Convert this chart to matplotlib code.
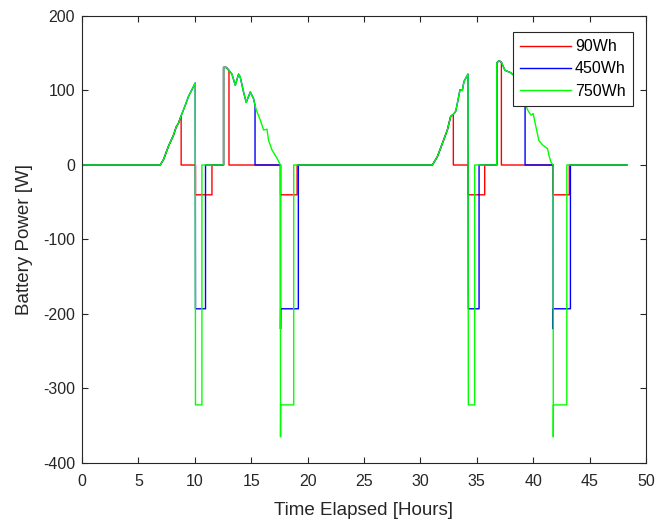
import matplotlib
matplotlib.use("Agg")
import matplotlib.pyplot as plt

plt.rcParams['font.family'] = ['Liberation Sans', 'DejaVu Sans']
plt.rcParams['axes.unicode_minus'] = False

# ---- data (hours, W) ----
# shared solar-charge curve segments
ramp1_t = [6.93, 7.22, 7.66, 8.11, 8.35, 8.55, 8.79, 9.15, 9.44, 9.74, 10.04]
ramp1_p = [0, 7, 25, 40, 51, 56, 66, 80, 92, 101, 110]
aft1_t = [12.55, 12.55, 12.79, 13.03, 13.29, 13.59, 13.88, 14.03, 14.32, 14.56, 14.92,
          15.21, 15.34, 15.45, 15.81, 16.10, 16.40, 16.54, 16.85, 17.29, 17.58]
aft1_p = [0, 131, 131, 127, 122, 107, 122, 118, 98, 84, 98,
          89, 80, 74, 60, 47, 48, 33, 20, 9, 0]
ramp2_t = [31.06, 31.50, 31.95, 32.39, 32.68, 32.92, 33.13, 33.28, 33.51, 33.72, 33.86, 34.22]
ramp2_p = [0, 11, 29, 47, 65, 68, 72, 83, 101, 100, 112, 122]
aft2_t = [36.77, 36.77, 36.97, 37.18, 37.50, 38.00, 38.30, 38.75, 39.28, 39.50, 39.80,
          40.00, 40.23, 40.50, 40.83, 41.27, 41.41, 41.60, 41.77]
aft2_p = [0, 137, 140, 138, 127, 124, 120, 102, 83, 74, 67,
          69, 52, 33, 27, 22, 12, 3, 0]

t_end = 48.3

# 90Wh series
red_t = ([0] + ramp1_t[:7] + [8.79, 10.06, 10.06, 11.52, 11.52]
         + aft1_t[:4] + [13.03, 17.60, 17.60, 19.07, 19.07]
         + ramp2_t[:6] + [32.92, 34.25, 34.25, 35.70, 35.70]
         + aft2_t[:4] + [37.18, 41.77, 41.77, 43.20, 43.20, t_end])
red_p = ([0] + ramp1_p[:7] + [0, 0, -40, -40, 0]
         + aft1_p[:4] + [0, 0, -40, -40, 0]
         + ramp2_p[:6] + [0, 0, -40, -40, 0]
         + aft2_p[:4] + [0, 0, -40, -40, 0, 0])

# 450Wh series
blue_t = ([0] + ramp1_t + [10.06, 10.95, 10.95]
          + aft1_t[:13] + [15.34, 17.60, 17.60, 17.61, 19.18, 19.18]
          + ramp2_t + [34.25, 35.20, 35.20]
          + aft2_t[:9] + [39.28, 41.77, 41.77, 41.78, 43.30, 43.30, t_end])
blue_p = ([0] + ramp1_p + [-193, -193, 0]
          + aft1_p[:13] + [0, 0, -220, -193, -193, 0]
          + ramp2_p + [-193, -193, 0]
          + aft2_p[:9] + [0, 0, -220, -193, -193, 0, 0])

# 750Wh series
green_t = ([0] + ramp1_t + [10.06, 10.63, 10.63]
           + aft1_t + [17.60, 17.61, 18.77, 18.77]
           + ramp2_t + [34.25, 34.81, 34.81]
           + aft2_t + [41.78, 41.79, 42.98, 42.98, t_end])
green_p = ([0] + ramp1_p + [-322, -322, 0]
           + aft1_p + [-365, -322, -322, 0]
           + ramp2_p + [-322, -322, 0]
           + aft2_p + [-365, -322, -322, 0, 0])

labels = ['90Wh', '450Wh', '750Wh']
colors = ['#ff0000', '#0000ff', '#00ff00']

fig = plt.figure(figsize=(6.6, 5.27), dpi=100)
ax = fig.add_axes([82/660, 1-463/527, (646-82)/660, (463-16)/527])

ax.plot(red_t, red_p, color=colors[0], lw=1.0, label=labels[0])
ax.plot(blue_t, blue_p, color=colors[1], lw=1.0, label=labels[1])
ax.plot(green_t, green_p, color=colors[2], lw=1.0, label=labels[2])

ax.set_xlim(0, 50)
ax.set_ylim(-400, 200)
ax.set_xticks(range(0, 51, 5))
ax.set_yticks(range(-400, 201, 100))
ax.tick_params(direction='in', top=True, right=True, length=4, width=0.8,
               labelsize=11.5, colors='#262626')
ax.tick_params(axis='x', pad=8)
ax.tick_params(axis='y', pad=5)
for s in ax.spines.values():
    s.set_color('#262626')
    s.set_linewidth(0.8)

ax.set_xlabel('Time Elapsed [Hours]', fontsize=13.5, color='#262626', labelpad=9.5)
ax.set_ylabel('Battery Power [W]', fontsize=13.5, color='#262626', labelpad=7)

leg = ax.legend(loc='upper right', bbox_to_anchor=((633-82)/(646-82), (463-32)/(463-16)),
                borderaxespad=0, fancybox=False, shadow=False, framealpha=1,
                edgecolor='#262626', fontsize=11.5, handlelength=3.2,
                handletextpad=0.25, labelspacing=0.45, borderpad=0.45)
leg.get_frame().set_linewidth(0.8)

fig.savefig('out.png', dpi=100)
